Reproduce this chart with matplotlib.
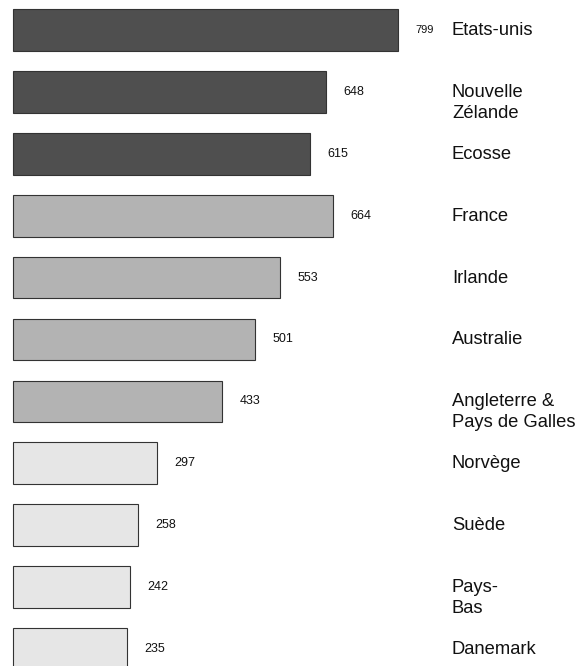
import numpy as np
import matplotlib
matplotlib.use("Agg")
import matplotlib.pyplot as plt

plt.rcParams['font.family'] = ['Liberation Sans', 'DejaVu Sans']

# countries, top to bottom
pays = ['Etats-unis', 'Nouvelle\nZélande', 'Ecosse', 'France', 'Irlande',
        'Australie', 'Angleterre &\nPays de Galles', 'Norvège', 'Suède',
        'Pays-\nBas', 'Danemark']
valeurs = [799, 648, 615, 664, 553, 501, 433, 297, 258, 242, 235]
groupe = [0, 0, 0, 1, 1, 1, 1, 2, 2, 2, 2]

couleurs = ['#4f4f4f', '#b3b3b3', '#e6e6e6']

fig = plt.figure(figsize=(5.78, 6.66), dpi=100)
ax = fig.add_axes([0, 0, 1, 1])

y = np.arange(len(pays))
ax.barh(y, valeurs, height=0.674, color=[couleurs[g] for g in groupe],
        edgecolor='#333333', linewidth=0.8)

# scale: 0 at ~13.5px, 0.482 px per unit
ax.set_xlim(-28, 1171.6)
ax.set_ylim(10.275, -0.485)
ax.axis('off')

for i, v in enumerate(valeurs):
    fs = 8 if i == 0 else 9
    ax.annotate(str(v), xy=(v, i), xytext=(12.5, 0), textcoords='offset points',
                va='center', ha='left', fontsize=fs, color='#111111')

for i, nom in enumerate(pays):
    ax.annotate(nom, xy=(0.782, i), xycoords=('axes fraction', 'data'),
                xytext=(0, 5.8), textcoords='offset points',
                va='top', ha='left', fontsize=13.2, color='#111111',
                linespacing=1.3)

fig.savefig('out.png', dpi=100)
